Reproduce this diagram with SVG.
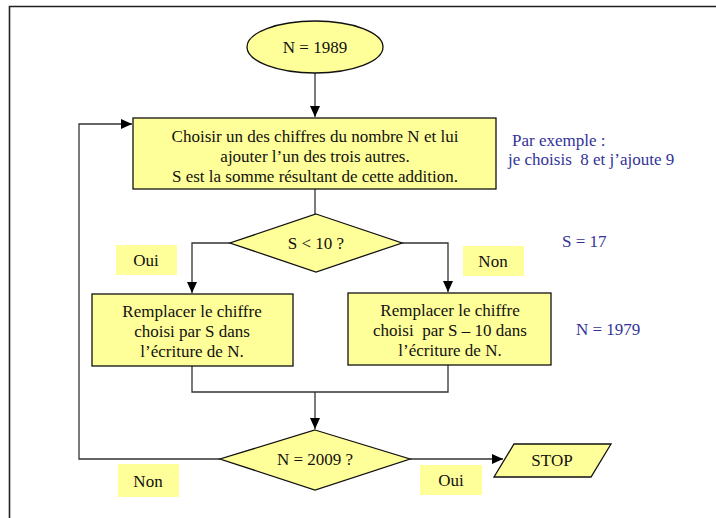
<svg xmlns="http://www.w3.org/2000/svg" width="716" height="518" viewBox="0 0 716 518">
  <defs>
    <marker id="arr" markerUnits="userSpaceOnUse" markerWidth="12" markerHeight="12" viewBox="0 0 12 12" refX="11" refY="6" orient="auto">
      <path d="M0,1 L11,6 L0,11 Z" fill="#000"/>
    </marker>
    <style>
      .shape { fill: #ffff99; stroke: #111; stroke-width: 1.3; }
      .lab { fill: #ffff99; stroke: none; }
      .t { font-family: "Liberation Serif", "Times New Roman", serif; font-size: 17px; fill: #111; text-anchor: middle; white-space: pre; }
      .b { font-family: "Liberation Serif", "Times New Roman", serif; font-size: 17px; fill: #333399; white-space: pre; }
      .ln { fill: none; stroke: #333; stroke-width: 1.3; }
    </style>
  </defs>
  <rect width="716" height="518" fill="#fff"/>
  <path d="M9.5,518 V6.5 H716" fill="none" stroke="#222" stroke-width="1.6"/>

  <g id="connectors">
    <path class="ln" d="M315,73 V117" marker-end="url(#arr)"/>
    <path class="ln" d="M315,189 V214"/>
    <path class="ln" d="M230,243 H192 V293" marker-end="url(#arr)"/>
    <path class="ln" d="M402,243 H448 V292" marker-end="url(#arr)"/>
    <path class="ln" d="M192,366 V392 H448 V365"/>
    <path class="ln" d="M315,392 V429" marker-end="url(#arr)"/>
    <path class="ln" d="M220,459 H79 V124 H132" marker-end="url(#arr)"/>
    <path class="ln" d="M410,459 H503" marker-end="url(#arr)"/>
  </g>

  <g id="start">
    <ellipse class="shape" cx="315" cy="47" rx="68" ry="26"/>
    <text class="t" x="315" y="53">N = 1989</text>
  </g>

  <g id="choose">
    <rect class="shape" x="133" y="118" width="363" height="71"/>
    <text class="t" x="315" y="142">Choisir un des chiffres du nombre N et lui</text>
    <text class="t" x="315" y="162">ajouter l’un des trois autres.</text>
    <text class="t" x="315" y="182">S est la somme résultant de cette addition.</text>
  </g>

  <g id="example">
    <text class="b" x="512" y="146">Par exemple :</text>
    <text class="b" x="508" y="165">je choisis  8 et j’ajoute 9</text>
  </g>

  <g id="test-s">
    <polygon class="shape" points="316,214 402,243 316,272 230,243"/>
    <text class="t" x="316" y="249">S &lt; 10 ?</text>
  </g>

  <g id="label-oui-1">
    <rect class="lab" x="116" y="245" width="61" height="30"/>
    <text class="t" x="146" y="266">Oui</text>
  </g>

  <g id="label-non-1">
    <rect class="lab" x="463" y="246" width="61" height="30"/>
    <text class="t" x="493" y="267">Non</text>
  </g>

  <g id="s-value">
    <text class="b" x="562" y="247">S = 17</text>
  </g>

  <g id="replace-s">
    <rect class="shape" x="92" y="294" width="201" height="72"/>
    <text class="t" x="192" y="317">Remplacer le chiffre</text>
    <text class="t" x="192" y="337">choisi par S dans</text>
    <text class="t" x="192" y="357">l’écriture de N.</text>
  </g>

  <g id="replace-s10">
    <rect class="shape" x="348" y="293" width="203" height="72"/>
    <text class="t" x="450" y="316">Remplacer le chiffre</text>
    <text class="t" x="450" y="336">choisi  par S – 10 dans</text>
    <text class="t" x="450" y="356">l’écriture de N.</text>
  </g>

  <g id="n-value">
    <text class="b" x="576" y="335">N = 1979</text>
  </g>

  <g id="test-n">
    <polygon class="shape" points="315,430 410,459 315,490 220,459"/>
    <text class="t" x="315" y="465">N = 2009 ?</text>
  </g>

  <g id="label-non-2">
    <rect class="lab" x="118" y="464" width="61" height="33"/>
    <text class="t" x="148" y="487">Non</text>
  </g>

  <g id="label-oui-2">
    <rect class="lab" x="420" y="465" width="62" height="30"/>
    <text class="t" x="451" y="486">Oui</text>
  </g>

  <g id="stop">
    <polygon class="shape" points="514,444 611,444 591,477 494,477"/>
    <text class="t" x="552" y="466">STOP</text>
  </g>
</svg>
